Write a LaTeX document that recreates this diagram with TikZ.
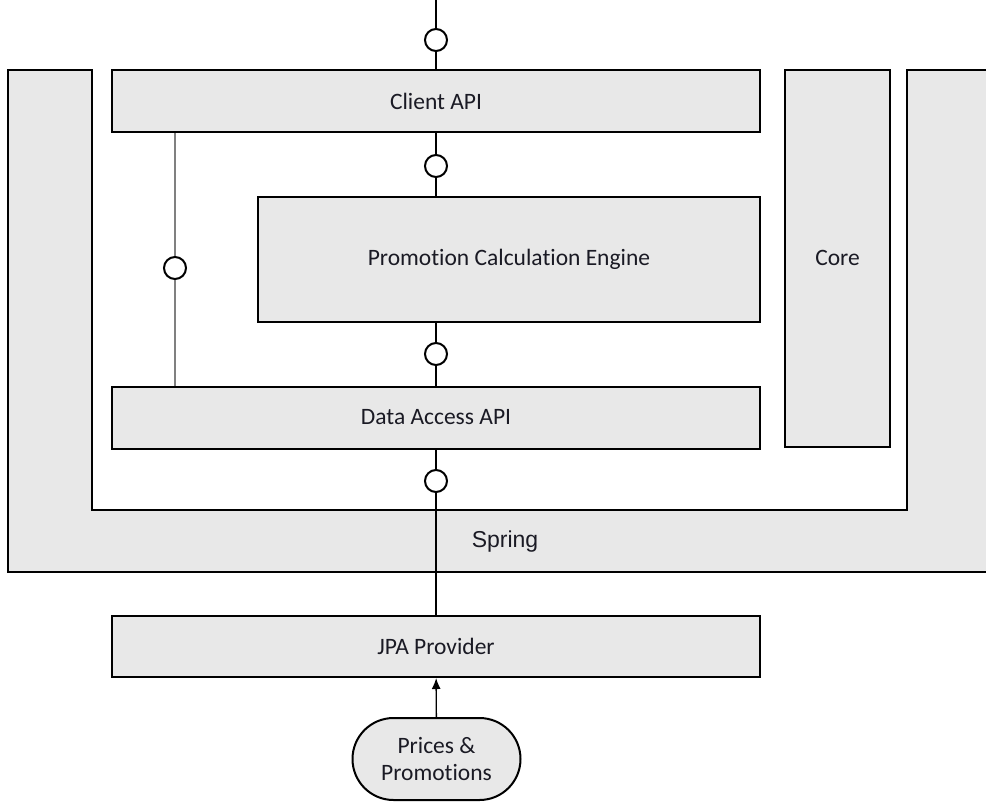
\documentclass[tikz,border=0pt]{standalone}
\usepackage{fontspec}
\setmainfont{Carlito}[Ligatures=NoCommon]
\newfontfamily\springfont{Liberation Sans}
\usetikzlibrary{positioning,shapes.misc,arrows.meta}

\definecolor{boxgray}{HTML}{E8E8E8}
\definecolor{txtdark}{HTML}{1A1A24}

\tikzset{
  comp/.style={draw, fill=boxgray, line width=2pt, text=txtdark,
    font=\fontsize{23.5}{27}\selectfont, inner sep=0pt},
  lolly/.style={draw, circle, fill=white, line width=2pt,
    minimum size=22pt, inner sep=0pt},
  wire/.style={line width=1.4pt},
}

\begin{document}
\begin{tikzpicture}[x=1pt, y=-1pt]
  \useasboundingbox (0,0) rectangle (986,804);
  % spring frame
  \fill[boxgray] (995,70) -- (907,70) -- (907,510) -- (92,510) -- (92,70)
    -- (8,70) -- (8,572) -- (995,572) -- cycle;
  \draw[line width=2pt] (995,70) -- (907,70) -- (907,510) -- (92,510)
    -- (92,70) -- (8,70) -- (8,572) -- (995,572);
  \node[font=\springfont\fontsize{23}{27}\selectfont, text=txtdark] (spring) at (505,542) {Spring};

  \node[comp, minimum width=648pt, minimum height=62pt] (client) at (436,101) {Client API};
  \node[comp, minimum width=502pt, minimum height=125pt] (engine) at (509,259) {Promotion Calculation Engine};
  \node[comp, minimum width=648pt, minimum height=62pt] (access) at (436,417.5) {Data Access API};
  \node[comp, minimum width=105pt, minimum height=377pt] (core) at (837.5,258) {Core};
  \node[comp, minimum width=648pt, minimum height=61pt] (jpa) at (436,646.5) {JPA Provider};
  \node[comp, shape=rounded rectangle, minimum width=168pt, minimum height=82pt,
    align=center] (store) at (436.5,759) {Prices \&\\Promotions};

  \node[lolly] (l1) at (436,40) {};
  \node[lolly] (l2) at (436,166) {};
  \node[lolly] (l3) at (436,354) {};
  \node[lolly] (l4) at (436,481) {};
  \node[lolly] (l5) at (175,268) {};
  \coordinate (top) at (436,0);

  \draw[wire] (top) -- (l1) -- (client);
  \draw[wire] (client) -- (l2) -- (l2 |- engine.north);
  \draw[wire] (l3 |- engine.south) -- (l3) -- (access);
  \draw[wire] (access) -- (l4) -- (l4 |- jpa.north);
  \draw[wire, gray] (l5 |- client.south) -- (l5) -- (l5 |- access.north);
  \draw[wire, -{Latex[length=11pt,width=9pt]}] (store) -- (jpa);
\end{tikzpicture}
\end{document}
